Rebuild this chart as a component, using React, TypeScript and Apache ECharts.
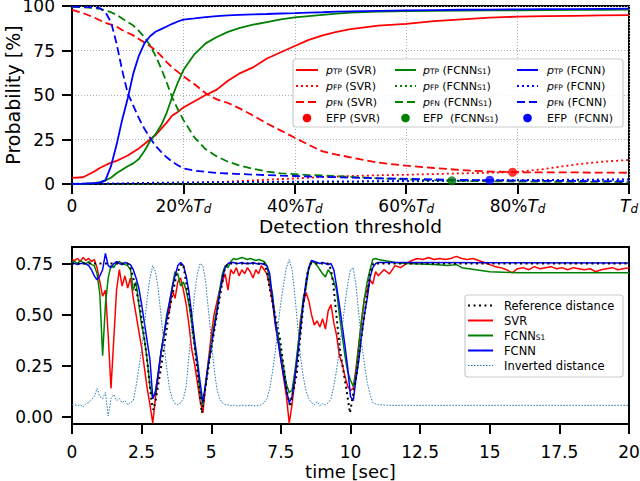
import React, { useEffect, useRef } from 'react';
import * as echarts from 'echarts';

const FONT = 'DejaVu Sans';
const RED = '#ff0000';
const GREEN = '#008000';
const BLUE = '#0000ff';
const INV = '#1f77b4';

// ---------- Top panel: detection threshold (% of T_d) ----------
const THRESH_PCT = [0, 2, 4, 5, 6, 7, 8, 9, 10, 11, 12, 13, 14, 15, 16, 17, 18, 19, 20, 22, 24, 26, 28, 30, 32.5, 35, 37.5, 40, 42.5, 45, 47.5, 50, 55, 60, 65, 70, 75, 80, 85, 90, 95, 100];
const THRESH_TICKS = [0, 20, 40, 60, 80, 100];
const PROB_TICKS = [0, 25, 50, 75, 100];

const SVR_TP = [3.4, 3.8, 7, 9, 10.5, 12, 13, 14.5, 16, 18, 20, 22.5, 25, 27.5, 31, 34.5, 38.5, 40.5, 43, 46.5, 50, 53, 58, 62, 65.5, 70.5, 74, 77.5, 81, 83.5, 85.5, 87, 89, 90, 91.5, 92.5, 93.5, 94, 94.3, 94.5, 94.7, 94.9];
const SVR_FP = [0, 0, 0, 0, 0, 0, 0, 0, 0.1, 0.1, 0.2, 0.2, 0.3, 0.3, 0.4, 0.4, 0.5, 0.5, 0.6, 0.7, 0.9, 1.1, 1.3, 1.6, 2, 2.4, 2.8, 3.1, 3.5, 3.9, 4.2, 4.5, 4.9, 5.2, 5.6, 6, 6.3, 6.8, 8.5, 10.8, 12.5, 13.5];
const SVR_FN = [97.8, 96, 93.5, 92, 90.5, 89.5, 88.4, 86.5, 85, 83.5, 81.5, 79.5, 77.5, 75, 72, 68.5, 65.5, 63, 60.5, 56, 51, 47.5, 45.5, 42.6, 38.5, 34, 30, 26, 22, 18.3, 16.5, 15, 12, 10.3, 9, 7.8, 7, 6.6, 6.5, 6.5, 6.4, 6.3];

const S1_TP = [0, 0.1, 0.5, 1, 2, 3.5, 6, 8, 10, 11.6, 14, 18.5, 24, 28, 33, 40, 49, 57, 64, 73, 79, 82.6, 85.5, 87.6, 89.5, 91, 92.5, 93.6, 94.3, 95, 95.7, 96.3, 96.8, 97.1, 97.3, 97.4, 97.5, 97.6, 97.7, 97.8, 97.9, 98];
const S1_FP = [0, 0, 0, 0, 0, 0, 0, 0, 0, 0, 0, 0, 0, 0, 0.1, 0.1, 0.1, 0.2, 0.2, 0.2, 0.3, 0.3, 0.4, 0.4, 0.5, 0.6, 0.7, 0.8, 0.9, 1, 1.1, 1.2, 1.4, 1.5, 1.6, 1.8, 2, 2.1, 2.2, 2.3, 2.4, 2.5];
const S1_FN = [99.5, 99.3, 98.8, 98.4, 97.5, 96.5, 95, 93, 91, 89, 86, 82.5, 78, 72, 65, 57, 48.5, 42, 36, 26, 19.5, 15.5, 12.5, 10.5, 8.5, 7, 6, 5.5, 5, 4.8, 4.4, 4, 3.2, 2.6, 2.2, 1.7, 1.5, 1.4, 1.3, 1.2, 1.2, 1.1];

const NN_TP = [0, 0.2, 0.5, 0.8, 2, 10, 22, 36, 48, 62, 72, 79, 83, 85.5, 87, 88.5, 90, 91.3, 92.3, 93, 93.8, 94.3, 94.7, 95, 95.3, 95.5, 95.8, 96, 96.3, 96.5, 96.8, 97, 97.3, 97.5, 97.7, 97.9, 98, 98.1, 98.2, 98.3, 98.4, 98.5];
const NN_FP = [0.2, 0.2, 0.2, 0.2, 0.3, 0.3, 0.4, 0.4, 0.5, 0.5, 0.6, 0.6, 0.7, 0.7, 0.8, 0.8, 0.8, 0.9, 0.9, 0.9, 1, 1, 1.1, 1.1, 1.2, 1.2, 1.3, 1.3, 1.4, 1.4, 1.5, 1.5, 1.6, 1.7, 1.8, 1.9, 2.1, 2.2, 2.3, 2.4, 2.5, 2.6];
const NN_FN = [99.6, 99.5, 99.2, 98.8, 96.5, 91, 79, 64, 51, 44, 37, 31, 26, 21.5, 18, 15, 12.5, 10.5, 8.8, 7.5, 6.8, 6.2, 5.9, 5.6, 5.3, 5, 4.7, 4.5, 4.2, 4, 3.8, 3.6, 3.2, 2.9, 2.6, 2.3, 2.1, 1.9, 1.8, 1.7, 1.6, 1.5];

const EFP_SVR = [79.1, 6.6];
const EFP_S1 = [68.2, 1.8];
const EFP_NN = [75, 2.1];

// ---------- Bottom panel: time series ----------
const T_FINE = Array.from({ length: 111 }, (_, i) => Math.round(i) / 10); // sampling grid 0..11 s
const T_TAIL = Array.from({ length: 45 }, (_, i) => Math.round(112 + i * 2) / 10); // 11.2..20 s
const TIME_TICKS = [0, 2.5, 5, 7.5, 10, 12.5, 15, 17.5, 20];
const DIST_TICKS = [0, 0.25, 0.5, 0.75];

const REF_T = [0, 2.0, 2.1, 2.2, 2.44, 2.68, 2.86, 2.92, 3.0, 3.16, 3.52, 3.76, 3.94, 4.0, 4.24, 4.48, 4.66, 4.96, 5.25, 5.49, 5.6, 6.9, 7.0, 7.11, 7.47, 7.71, 7.83, 8.07, 8.3, 8.45, 8.55, 9.2, 9.3, 9.38, 9.62, 9.86, 9.98, 10.22, 10.46, 10.7, 10.82, 20];
const REF_V = [0.75, 0.75, 0.73, 0.68, 0.54, 0.30, 0.07, 0.035, 0.08, 0.21, 0.54, 0.70, 0.75, 0.74, 0.54, 0.25, 0.02, 0.30, 0.54, 0.73, 0.75, 0.75, 0.71, 0.62, 0.38, 0.13, 0.05, 0.21, 0.54, 0.70, 0.75, 0.75, 0.72, 0.65, 0.33, 0.13, 0.02, 0.21, 0.46, 0.70, 0.75, 0.75];

const SVR_FINE = [
  0.77, 0.765, 0.775, 0.76, 0.78, 0.765, 0.775, 0.76, 0.77, 0.73,
  0.66, 0.59, 0.62, 0.40, 0.14, 0.38, 0.62, 0.72, 0.64, 0.69,
  0.63, 0.68, 0.58, 0.50, 0.42, 0.34, 0.24, 0.14, 0.06, -0.03,
  0.10, 0.20, 0.32, 0.40, 0.48, 0.52, 0.62, 0.58, 0.66, 0.68,
  0.62, 0.55, 0.45, 0.33, 0.26, 0.17, 0.08, 0.02, 0.16, 0.28,
  0.40, 0.50, 0.56, 0.62, 0.66, 0.70, 0.62, 0.72, 0.70, 0.73,
  0.69, 0.72, 0.70, 0.73, 0.71, 0.68, 0.72, 0.70, 0.74, 0.72,
  0.70, 0.64, 0.56, 0.45, 0.37, 0.28, 0.19, 0.10, -0.03, 0.06,
  0.18, 0.32, 0.47, 0.55, 0.61, 0.57, 0.50, 0.45, 0.47, 0.44,
  0.48, 0.43, 0.52, 0.55, 0.46, 0.40, 0.30, 0.26, 0.20, 0.15,
  0.13, 0.14, 0.24, 0.36, 0.47, 0.58, 0.62, 0.67, 0.65, 0.71,
  0.69,
];
const SVR_TAIL = [
  0.72, 0.70, 0.74, 0.73, 0.75,
  0.765, 0.775, 0.77, 0.78, 0.77,
  0.775, 0.77, 0.775, 0.785, 0.775,
  0.77, 0.775, 0.765, 0.755, 0.745,
  0.735, 0.73, 0.72, 0.705, 0.725,
  0.73, 0.72, 0.735, 0.725, 0.73,
  0.735, 0.725, 0.73, 0.72, 0.73,
  0.725, 0.72, 0.725, 0.71, 0.72,
  0.725, 0.73, 0.72, 0.725, 0.73,
];

const S1_FINE = [
  0.755, 0.76, 0.75, 0.765, 0.755, 0.75, 0.76, 0.745, 0.74, 0.70,
  0.60, 0.30, 0.55, 0.68, 0.74, 0.73, 0.755, 0.76, 0.75, 0.745,
  0.74, 0.72, 0.62, 0.66, 0.55, 0.45, 0.38, 0.28, 0.15, 0.09,
  0.13, 0.22, 0.32, 0.40, 0.50, 0.56, 0.64, 0.71, 0.70, 0.64,
  0.66, 0.62, 0.55, 0.46, 0.35, 0.26, 0.12, 0.06, 0.17, 0.27,
  0.36, 0.45, 0.53, 0.62, 0.70, 0.74, 0.73, 0.76, 0.775, 0.77,
  0.775, 0.78, 0.775, 0.77, 0.775, 0.77, 0.765, 0.77, 0.765, 0.76,
  0.74, 0.66, 0.60, 0.47, 0.40, 0.31, 0.24, 0.16, 0.12, 0.13,
  0.22, 0.33, 0.45, 0.58, 0.63, 0.72, 0.76, 0.755, 0.74, 0.72,
  0.70, 0.685, 0.72, 0.70, 0.66, 0.62, 0.50, 0.40, 0.30, 0.22,
  0.18, 0.15, 0.22, 0.35, 0.48, 0.58, 0.66, 0.72, 0.77, 0.775,
  0.77,
];
const S1_TAIL_T = [11.2, 11.6, 12, 12.5, 13, 13.5, 13.8, 14, 14.5, 15, 15.5, 16, 20];
const S1_TAIL = [0.765, 0.755, 0.75, 0.748, 0.745, 0.74, 0.745, 0.73, 0.72, 0.71, 0.708, 0.705, 0.705];

const NN_FINE = [
  0.75, 0.75, 0.745, 0.75, 0.752, 0.748, 0.74, 0.72, 0.69, 0.67,
  0.69, 0.72, 0.80, 0.74, 0.73, 0.75, 0.76, 0.75, 0.745, 0.755,
  0.75, 0.745, 0.72, 0.68, 0.63, 0.55, 0.46, 0.37, 0.28, 0.09,
  0.12, 0.22, 0.32, 0.40, 0.48, 0.56, 0.63, 0.69, 0.74, 0.755,
  0.74, 0.69, 0.61, 0.50, 0.38, 0.28, 0.17, 0.07, 0.16, 0.26,
  0.34, 0.43, 0.51, 0.60, 0.68, 0.73, 0.75, 0.755, 0.755, 0.75,
  0.752, 0.755, 0.75, 0.752, 0.75, 0.755, 0.75, 0.748, 0.75, 0.745,
  0.74, 0.70, 0.58, 0.46, 0.37, 0.28, 0.20, 0.13, 0.07, 0.10,
  0.19, 0.30, 0.42, 0.55, 0.66, 0.73, 0.765, 0.76, 0.755, 0.75,
  0.755, 0.75, 0.745, 0.75, 0.72, 0.64, 0.55, 0.45, 0.35, 0.24,
  0.10, 0.08, 0.19, 0.28, 0.40, 0.50, 0.58, 0.68, 0.73, 0.75,
  0.755,
];
const NN_TAIL_T = [11.5, 20];
const NN_TAIL = [0.755, 0.753];

const INV_FINE = [
  0.06, 0.06, 0.055, 0.06, 0.05, 0.065, 0.07, 0.085, 0.10, 0.14,
  0.10, 0.09, 0.12, 0.005, 0.09, 0.11, 0.08, 0.09, 0.07, 0.08,
  0.06, 0.07, 0.08, 0.15, 0.24, 0.33, 0.45, 0.58, 0.68, 0.74,
  0.71, 0.62, 0.49, 0.36, 0.24, 0.14, 0.09, 0.065, 0.06, 0.07,
  0.09, 0.15, 0.30, 0.45, 0.60, 0.70, 0.75, 0.74, 0.66, 0.52,
  0.38, 0.24, 0.14, 0.09, 0.07, 0.06, 0.06, 0.055, 0.058, 0.055,
  0.055, 0.058, 0.055, 0.055, 0.058, 0.055, 0.055, 0.056, 0.06, 0.07,
  0.09, 0.14, 0.22, 0.32, 0.45, 0.56, 0.65, 0.73, 0.77, 0.72,
  0.60, 0.45, 0.30, 0.20, 0.13, 0.09, 0.07, 0.06, 0.075, 0.055,
  0.065, 0.06, 0.07, 0.09, 0.15, 0.23, 0.33, 0.44, 0.55, 0.65,
  0.72, 0.73, 0.64, 0.50, 0.36, 0.26, 0.17, 0.11, 0.07, 0.065,
  0.06,
];
const INV_TAIL_T = [11.5, 20];
const INV_TAIL = [0.057, 0.057];

const zip = (xs: number[], ys: number[]) => xs.map((x, i) => [x, ys[i]]);

const TOP_DASH = [8, 4];
const TOP_DOT = [2, 3];

function lineSeries(name: string, data: number[][], color: string, type: any, width: number, axis: number, z = 2) {
  return {
    name,
    type: 'line',
    xAxisIndex: axis,
    yAxisIndex: axis,
    data,
    symbol: 'none',
    showSymbol: false,
    silent: true,
    z,
    lineStyle: { color, width, type, cap: 'butt' },
  };
}

const richLegend = {
  i: { fontStyle: 'italic', fontSize: 11, fontFamily: FONT, fill: '#000' },
  s: { fontSize: 7.5, fontFamily: FONT, verticalAlign: 'bottom', fill: '#000' },
  n: { fontSize: 11, fontFamily: FONT, fill: '#000' },
};

function legendText(x: number, y: number, text: string, fontSize = 11) {
  return {
    type: 'text',
    x,
    y,
    z: 101,
    silent: true,
    style: {
      text,
      fill: '#000',
      fontSize,
      fontFamily: FONT,
      verticalAlign: 'middle',
      align: 'left',
      rich: richLegend,
    },
  };
}
function legendLine(x1: number, x2: number, y: number, color: string, dash: any, width: number) {
  return {
    type: 'line',
    z: 101,
    silent: true,
    shape: { x1, y1: y, x2, y2: y },
    style: { stroke: color, lineWidth: width, lineDash: dash, lineCap: 'butt' },
  };
}
function legendDot(cx: number, cy: number, color: string) {
  return { type: 'circle', z: 101, silent: true, shape: { cx, cy, r: 4.3 }, style: { fill: color } };
}

function buildGraphics() {
  const g: any[] = [];
  // top legend box
  g.push({
    type: 'rect', z: 100, silent: true,
    shape: { x: 293, y: 59, width: 330, height: 68, r: 3 },
    style: { fill: 'rgba(255,255,255,0.85)', stroke: '#cccccc', lineWidth: 1.2 },
  });
  const rows = [70, 86, 102, 118];
  const cols = [
    { x1: 296, x2: 318, tx: 326, c: RED, tag: '(SVR)', efp: 'EFP (SVR)' },
    { x1: 395, x2: 416, tx: 423, c: GREEN, tag: '(FCNN{s|S1})', efp: 'EFP  (FCNN{s|S1})' },
    { x1: 517, x2: 538, tx: 547, c: BLUE, tag: '(FCNN)', efp: 'EFP  (FCNN)' },
  ];
  cols.forEach((col) => {
    g.push(legendLine(col.x1, col.x2, rows[0], col.c, null, 2));
    g.push(legendText(col.tx, rows[0], `{i|p}{s|TP} ${col.tag}`));
    g.push(legendLine(col.x1, col.x2, rows[1], col.c, TOP_DOT, 2));
    g.push(legendText(col.tx, rows[1], `{i|p}{s|FP} ${col.tag}`));
    g.push(legendLine(col.x1, col.x2, rows[2], col.c, TOP_DASH, 2));
    g.push(legendText(col.tx, rows[2], `{i|p}{s|FN} ${col.tag}`));
    g.push(legendDot((col.x1 + col.x2) / 2, rows[3], col.c));
    g.push(legendText(col.tx, rows[3], col.efp));
  });
  // bottom legend box
  g.push({
    type: 'rect', z: 100, silent: true,
    shape: { x: 465, y: 295, width: 158, height: 82, r: 3 },
    style: { fill: 'rgba(255,255,255,0.85)', stroke: '#cccccc', lineWidth: 1.2 },
  });
  const brow = [305.5, 320.5, 335.5, 350.5, 365.5];
  const bx1 = 468, bx2 = 493, btx = 504;
  const fs = 11.5;
  g.push(legendLine(bx1, bx2, brow[0], '#000', [2, 3.5], 2));
  g.push(legendText(btx, brow[0], 'Reference distance', fs));
  g.push(legendLine(bx1, bx2, brow[1], RED, null, 2));
  g.push(legendText(btx, brow[1], 'SVR', fs));
  g.push(legendLine(bx1, bx2, brow[2], GREEN, null, 2));
  g.push(legendText(btx, brow[2], 'FCNN{s|S1}', fs));
  g.push(legendLine(bx1, bx2, brow[3], BLUE, null, 2));
  g.push(legendText(btx, brow[3], 'FCNN', fs));
  g.push(legendLine(bx1, bx2, brow[4], INV, [1.5, 1.5], 1));
  g.push(legendText(btx, brow[4], 'Inverted distance', fs));
  return g;
}

const axisFont = { color: '#000', fontFamily: FONT, fontSize: 17 };

function buildOption() {
  return {
    animation: false,
    backgroundColor: '#ffffff',
    grid: [
      { left: 72, top: 6, width: 557, height: 178, show: true, borderColor: '#000', borderWidth: 2, containLabel: false, outerBoundsMode: 'none' },
      { left: 72, top: 247, width: 557, height: 177, show: true, borderColor: '#000', borderWidth: 2, containLabel: false, outerBoundsMode: 'none' },
    ],
    xAxis: [
      {
        type: 'value', gridIndex: 0, min: 0, max: 100, interval: 20,
        name: 'Detection threshold', nameLocation: 'middle', nameGap: 33, nameMoveOverlap: false,
        nameTextStyle: { color: '#000', fontFamily: FONT, fontSize: 18.5 },
        axisLine: { show: true, onZero: false, lineStyle: { color: '#000', width: 2 } },
        axisTick: { show: true, length: 10, lineStyle: { color: '#000', width: 2 }, customValues: THRESH_TICKS },
        axisLabel: {
          ...axisFont, margin: 13, customValues: THRESH_TICKS,
          formatter: (v: number) => (v === 0 ? '0' : v === 100 ? '{i|T}{d|d}' : `${v}%{i|T}{d|d}`),
          rich: {
            i: { fontStyle: 'italic', fontSize: 17, fontFamily: FONT, color: '#000' },
            d: { fontStyle: 'italic', fontSize: 12, fontFamily: FONT, color: '#000', verticalAlign: 'bottom', padding: [6, 0, 0, 0] },
          },
        },
        splitLine: { show: true, lineStyle: { color: '#b0b0b0', width: 1, type: [1, 2] } },
      },
      {
        type: 'value', gridIndex: 1, min: 0, max: 20, interval: 2.5,
        name: 'time [sec]', nameLocation: 'middle', nameGap: 38, nameMoveOverlap: false,
        nameTextStyle: { color: '#000', fontFamily: FONT, fontSize: 18, lineHeight: 18 },
        axisLine: { show: true, onZero: false, lineStyle: { color: '#000', width: 2 } },
        axisTick: { show: true, length: 10, lineStyle: { color: '#000', width: 2 }, customValues: TIME_TICKS },
        axisLabel: { ...axisFont, lineHeight: 17, margin: 19, customValues: TIME_TICKS },
        splitLine: { show: false },
      },
    ],
    yAxis: [
      {
        type: 'value', gridIndex: 0, min: 0, max: 100, interval: 25,
        name: 'Probability [%]', nameLocation: 'middle', nameRotate: 90, nameGap: 50, nameMoveOverlap: false,
        nameTextStyle: { color: '#000', fontFamily: FONT, fontSize: 19 },
        axisLine: { show: true, onZero: false, lineStyle: { color: '#000', width: 2 } },
        axisTick: { show: true, length: 10, lineStyle: { color: '#000', width: 2 }, customValues: PROB_TICKS },
        axisLabel: { ...axisFont, lineHeight: 12, margin: 17, customValues: PROB_TICKS },
        splitLine: { show: true, lineStyle: { color: '#b0b0b0', width: 1, type: [1, 2] } },
      },
      {
        type: 'value', gridIndex: 1, min: -0.034, max: 0.831,
        axisLine: { show: true, onZero: false, lineStyle: { color: '#000', width: 2 } },
        axisTick: { show: true, length: 10, lineStyle: { color: '#000', width: 2 }, customValues: DIST_TICKS },
        axisLabel: { ...axisFont, margin: 19, customValues: DIST_TICKS, formatter: (v: number) => v.toFixed(2) },
        splitLine: { show: false },
      },
    ],
    series: [
      lineSeries('pTP (SVR)', zip(THRESH_PCT, SVR_TP), RED, 'solid', 1.8, 0),
      lineSeries('pFP (SVR)', zip(THRESH_PCT, SVR_FP), RED, TOP_DOT, 1.8, 0),
      lineSeries('pFN (SVR)', zip(THRESH_PCT, SVR_FN), RED, TOP_DASH, 1.8, 0),
      lineSeries('pTP (FCNN_S1)', zip(THRESH_PCT, S1_TP), GREEN, 'solid', 1.8, 0),
      lineSeries('pFP (FCNN_S1)', zip(THRESH_PCT, S1_FP), GREEN, TOP_DOT, 1.8, 0),
      lineSeries('pFN (FCNN_S1)', zip(THRESH_PCT, S1_FN), GREEN, TOP_DASH, 1.8, 0),
      lineSeries('pTP (FCNN)', zip(THRESH_PCT, NN_TP), BLUE, 'solid', 1.8, 0),
      lineSeries('pFP (FCNN)', zip(THRESH_PCT, NN_FP), BLUE, TOP_DOT, 1.8, 0),
      lineSeries('pFN (FCNN)', zip(THRESH_PCT, NN_FN), BLUE, TOP_DASH, 1.8, 0),
      { name: 'EFP (SVR)', type: 'scatter', xAxisIndex: 0, yAxisIndex: 0, data: [EFP_SVR], symbolSize: 9, itemStyle: { color: RED }, z: 5, silent: true },
      { name: 'EFP (FCNN_S1)', type: 'scatter', xAxisIndex: 0, yAxisIndex: 0, data: [EFP_S1], symbolSize: 9, itemStyle: { color: GREEN }, z: 5, silent: true },
      { name: 'EFP (FCNN)', type: 'scatter', xAxisIndex: 0, yAxisIndex: 0, data: [EFP_NN], symbolSize: 9, itemStyle: { color: BLUE }, z: 5, silent: true },

      lineSeries('SVR', zip(T_FINE, SVR_FINE).concat(zip(T_TAIL, SVR_TAIL)), RED, 'solid', 1.5, 1),
      lineSeries('FCNN_S1', zip(T_FINE, S1_FINE).concat(zip(S1_TAIL_T, S1_TAIL)), GREEN, 'solid', 1.5, 1),
      lineSeries('FCNN', zip(T_FINE, NN_FINE).concat(zip(NN_TAIL_T, NN_TAIL)), BLUE, 'solid', 1.5, 1),
      lineSeries('Reference distance', zip(REF_T, REF_V), '#000', [2, 3.5], 2, 1, 3),
      lineSeries('Inverted distance', zip(T_FINE, INV_FINE).concat(zip(INV_TAIL_T, INV_TAIL)), INV, [1.5, 1.5], 1, 1, 3),
    ],
    graphic: buildGraphics(),
  };
}

export default function App() {
  const ref = useRef<HTMLDivElement>(null);
  useEffect(() => {
    if (!ref.current) return;
    const chart = echarts.init(ref.current, null, { renderer: 'svg' });
    chart.setOption(buildOption() as any);
    return () => chart.dispose();
  }, []);
  return <div ref={ref} style={{ position: 'absolute', left: 0, top: 0, width: 640, height: 481 }} />;
}
